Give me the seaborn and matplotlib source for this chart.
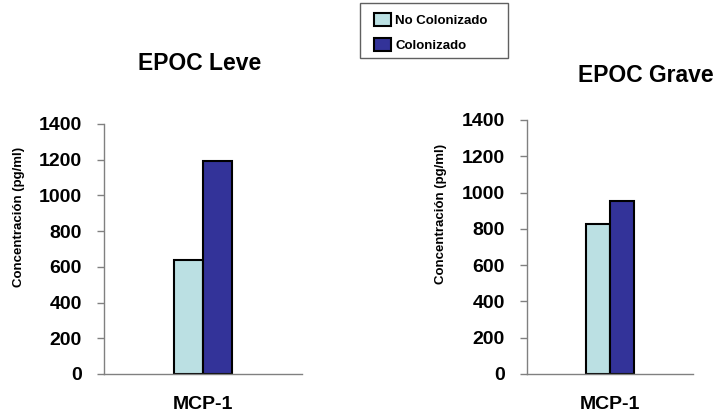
import matplotlib
matplotlib.use("Agg")
import matplotlib.pyplot as plt
import seaborn as sns
import pandas as pd
from matplotlib.patches import Patch, Rectangle

sns.set_style("white")
plt.rcParams['font.family'] = ['Liberation Sans', 'DejaVu Sans']
plt.rcParams['font.weight'] = 'bold'
plt.rcParams['text.color'] = 'black'
plt.rcParams['axes.labelcolor'] = 'black'
plt.rcParams['xtick.color'] = 'black'
plt.rcParams['ytick.color'] = 'black'

marker = ["MCP-1"]
grupos = ["No Colonizado", "Colonizado"]
leve_vals = [638, 1195]
grave_vals = [827, 952]
titles = ["EPOC Leve", "EPOC Grave"]
yticks = [0, 200, 400, 600, 800, 1000, 1200, 1400]
colors = ["#BBE0E3", "#333399"]
ylabel = "Concentración (pg/ml)"

fig = plt.figure(figsize=(7.19, 4.16), dpi=100)
axL = fig.add_axes([104/719, 42/416, 198/719, 250/416])
axR = fig.add_axes([527/719, 42/416, 166/719, 254/416])

for ax, vals in ((axL, leve_vals), (axR, grave_vals)):
    df = pd.DataFrame({"marker": marker * len(grupos), "grupo": grupos, "valor": vals})
    sns.barplot(data=df, x="marker", y="valor", hue="grupo", palette=colors,
                saturation=1, edgecolor="black", linewidth=1.5, width=0.29,
                ax=ax, legend=False)
    ax.set_xlim(-0.5, 0.5)
    ax.set_ylim(0, 1400)
    ax.set_yticks(yticks)
    ax.set_yticklabels([str(v) for v in yticks], fontsize=14, fontweight='bold')
    ax.set_xticks([0])
    ax.set_xticklabels(marker, fontsize=14, fontweight='bold')
    ax.set_xticks([-0.5, 0.5], minor=True)
    ax.tick_params(axis='x', which='major', length=0, pad=16, labelcolor='black')
    ax.tick_params(axis='x', which='minor', length=5, direction='out', color='#808080', width=1)
    ax.tick_params(axis='y', length=5, direction='out', color='#808080', width=1,
                   pad=11, left=True, labelcolor='black')
    for s in ("top", "right"):
        ax.spines[s].set_visible(False)
    for s in ("left", "bottom"):
        ax.spines[s].set_color("#808080")
        ax.spines[s].set_linewidth(1)
    ax.set_xlabel("")
    ax.set_ylabel(ylabel, fontsize=9.5, fontweight='bold', color='black')

axL.yaxis.set_label_coords(-0.40, 0.63)
axR.yaxis.set_label_coords(-0.48, 0.63)

fig.text(200/719, 1 - 64/416, titles[0], ha='center', va='center', fontsize=16.5, fontweight='bold')
fig.text(646/719, 1 - 75/416, titles[1], ha='center', va='center', fontsize=16.5, fontweight='bold')

# legend frame
fig.patches.append(Rectangle((360/719, 1 - 58/416), 148/719, 55/416, transform=fig.transFigure,
                             facecolor='white', edgecolor='#606060', linewidth=1, zorder=0))

handles = [Patch(facecolor=c, edgecolor='black', linewidth=1.5) for c in colors]
leg = fig.legend(handles, grupos, loc='upper left', bbox_to_anchor=(374/719, 1 - 13/416),
                 frameon=False, prop={'weight': 'bold', 'size': 9.5},
                 handlelength=1.3, handleheight=1.15, handletextpad=0.3,
                 borderpad=0, labelspacing=0.8, borderaxespad=0)

fig.savefig("out.png", dpi=100)
